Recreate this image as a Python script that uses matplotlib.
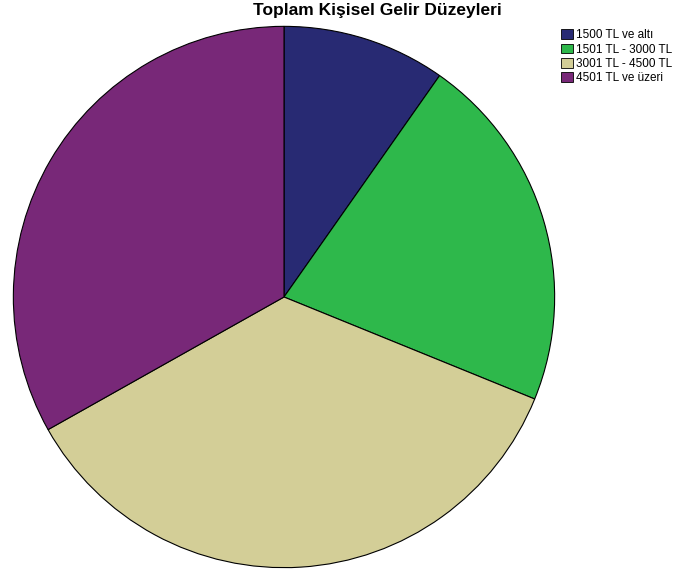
import matplotlib.pyplot as plt
from matplotlib.patches import Patch

plt.rcParams['font.family'] = ['Liberation Sans', 'DejaVu Sans']

# Gelir grupları ve yüzdeleri
labels = ["1500 TL ve altı", "1501 TL - 3000 TL", "3001 TL - 4500 TL", "4501 TL ve üzeri"]
values = [9.75, 21.4, 35.7, 33.15]
colors = ["#282a73", "#2eb84b", "#d3ce97", "#782878"]

W, H = 678, 578
fig = plt.figure(figsize=(W / 100, H / 100), dpi=100)

cx, cy, r = 284, 297, 272
ax = fig.add_axes([(cx - r) / W, (H - cy - r) / H, 2 * r / W, 2 * r / H])
ax.pie(values, colors=colors, startangle=90, counterclock=False, radius=1,
       wedgeprops=dict(edgecolor="black", linewidth=0.8))
ax.set_xlim(-1.005, 1.005)
ax.set_ylim(-1.005, 1.005)
ax.axis("off")

fig.text(377 / W, 1 - 11 / H, "Toplam Kişisel Gelir Düzeyleri", ha="center", va="center",
         fontsize=12.5, fontweight="bold")

handles = [Patch(facecolor=c, edgecolor="black", linewidth=0.6) for c in colors]
fig.legend(handles, labels, loc="upper left", bbox_to_anchor=(553 / W, 1 - 21 / H),
           frameon=False, fontsize=8.5, handlelength=1.0, handleheight=0.9,
           handletextpad=0.25, labelspacing=0.2, borderpad=0.2)

fig.savefig("out.png", dpi=100)
